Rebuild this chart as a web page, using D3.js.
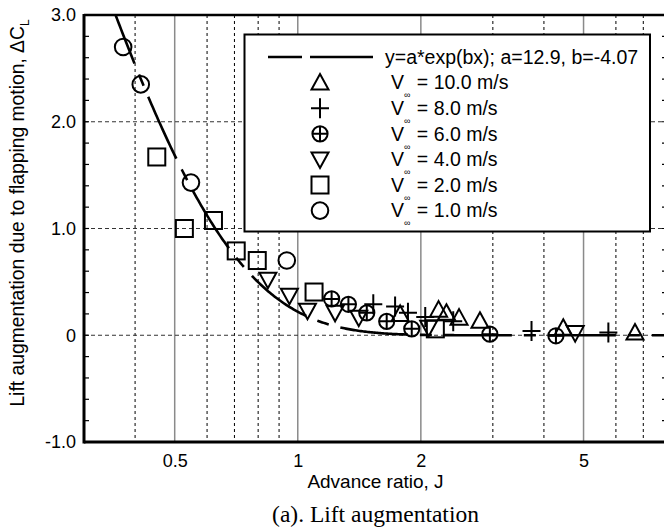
<!DOCTYPE html>
<html><head><meta charset="utf-8">
<script src="https://cdn.jsdelivr.net/npm/d3@7"></script>
<style>body{margin:0;background:#fff}svg{display:block}</style>
</head><body>
<svg id="c" width="664" height="532"></svg>
<script>
// ---- data ----
const fitA = 12.9, fitB = -4.07;
const J10 = [1.78, 2.21, 2.31, 2.48, 2.79, 4.46, 6.68];
const C10 = [0.20, 0.24, 0.21, 0.165, 0.135, 0.07, 0.025];
const J8 = [1.53, 1.73, 1.86, 2.05, 2.40, 3.73, 5.75];
const C8 = [0.29, 0.27, 0.21, 0.17, 0.13, 0.04, 0.025];
const J6 = [1.21, 1.33, 1.475, 1.65, 1.90, 2.95, 4.28];
const C6 = [0.34, 0.29, 0.21, 0.13, 0.06, 0.01, -0.005];
const J4 = [0.845, 0.954, 1.056, 1.234, 1.41, 2.09, 4.77];
const C4 = [0.52, 0.37, 0.23, 0.21, 0.165, 0.07, 0.02];
const J2 = [0.452, 0.528, 0.622, 0.707, 0.796, 1.096, 2.17];
const C2 = [1.67, 1.00, 1.075, 0.79, 0.70, 0.405, 0.06];
const J1 = [0.374, 0.413, 0.548, 0.94];
const C1 = [2.70, 2.35, 1.43, 0.70];
const seriesLabels = ["10.0 m/s", "8.0 m/s", "6.0 m/s", "4.0 m/s", "2.0 m/s", "1.0 m/s"];
const seriesSymbols = ["triUp", "plus", "circlePlus", "triDown", "square", "circle"];
const xTickLabels = [0.5, 1, 2, 5];
const xMinorGrid = [0.4, 0.6, 0.7, 0.8, 0.9, 3, 4, 6, 7];
const yTickValues = [-1, 0, 1, 2, 3];
const yTickLabels = ["-1.0", "0", "1.0", "2.0", "3.0"];

// ---- layout ----
const svg = d3.select("#c");
const L = 84, R = 667, T = 15, B = 442;
const x = d3.scaleLog().domain([0.3, 8]).range([L, R]);
const y = d3.scaleLinear().domain([-1, 3]).range([B, T]);

svg.append("defs").append("clipPath").attr("id", "clip")
  .append("rect").attr("x", L).attr("y", T).attr("width", R - L).attr("height", B - T);

// grid
const g = svg.append("g");
g.selectAll(".gmaj").data(xTickLabels).join("line")
  .attr("x1", d => x(d)).attr("x2", d => x(d)).attr("y1", T).attr("y2", B)
  .attr("stroke", "#8a8a8a").attr("stroke-width", 1.5);
g.selectAll(".gmin").data(xMinorGrid).join("line")
  .attr("x1", d => x(d)).attr("x2", d => x(d)).attr("y1", T).attr("y2", B)
  .attr("stroke", "#000").attr("stroke-width", 1).attr("stroke-dasharray", "3,3");
g.selectAll(".gy").data([0, 1, 2]).join("line")
  .attr("x1", L).attr("x2", R).attr("y1", d => y(d)).attr("y2", d => y(d))
  .attr("stroke", "#333").attr("stroke-width", 1).attr("stroke-dasharray", "4,3");

// minor y ticks (inward) on left and right
const yMinor = d3.range(-1, 3.001, 0.2);
svg.append("g").selectAll("line").data(yMinor).join("line")
  .attr("x1", L).attr("x2", L + 5).attr("y1", d => y(d)).attr("y2", d => y(d))
  .attr("stroke", "#000").attr("stroke-width", 1.2);
svg.append("g").selectAll("line").data(yMinor).join("line")
  .attr("x1", R - 5).attr("x2", R).attr("y1", d => y(d)).attr("y2", d => y(d))
  .attr("stroke", "#000").attr("stroke-width", 1.2);

// fit curve
const J0 = Math.log(fitA / 3) / -fitB;
const Js = d3.range(0, 401).map(i => J0 * Math.pow(8 / J0, i / 400));
const line = d3.line().x(d => x(d)).y(d => y(fitA * Math.exp(fitB * d)));
svg.append("path").datum(Js).attr("d", line).attr("clip-path", "url(#clip)")
  .attr("fill", "none").attr("stroke", "#000").attr("stroke-width", 2.6)
  .attr("stroke-dasharray", "68,12,12,12").attr("stroke-dashoffset", 16);

// symbols
function drawSym(sel, type, cx, cy) {
  const s = 8.5;
  const st = {fill: "none", stroke: "#000", "stroke-width": 2};
  const ap = (el) => { for (const k in st) el.attr(k, st[k]); return el; };
  if (type === "circle") ap(sel.append("circle").attr("cx", cx).attr("cy", cy).attr("r", 8.3));
  else if (type === "square") ap(sel.append("rect").attr("x", cx - s).attr("y", cy - s).attr("width", 2 * s).attr("height", 2 * s));
  else if (type === "triUp") ap(sel.append("path").attr("d", `M${cx},${cy - 8.5}L${cx + 8.5},${cy + 7}L${cx - 8.5},${cy + 7}Z`));
  else if (type === "triDown") ap(sel.append("path").attr("d", `M${cx},${cy + 8.5}L${cx + 8.5},${cy - 7}L${cx - 8.5},${cy - 7}Z`));
  else if (type === "plus") ap(sel.append("path").attr("d", `M${cx - 9},${cy}H${cx + 9}M${cx},${cy - 10}V${cy + 10}`));
  else if (type === "circlePlus") {
    ap(sel.append("circle").attr("cx", cx).attr("cy", cy).attr("r", 7.6));
    ap(sel.append("path").attr("d", `M${cx - 7.6},${cy}H${cx + 7.6}M${cx},${cy - 7.6}V${cy + 7.6}`));
  }
}
const seriesJ = [J10, J8, J6, J4, J2, J1];
const seriesC = [C10, C8, C6, C4, C2, C1];
const mg = svg.append("g");
[5, 4, 3, 2, 1, 0].forEach(k => {
  seriesJ[k].forEach((j, i) => drawSym(mg, seriesSymbols[k], x(j), y(seriesC[k][i])));
});

// axes frame
svg.append("line").attr("x1", L).attr("x2", R).attr("y1", T).attr("y2", T).attr("stroke", "#000").attr("stroke-width", 2.5);
svg.append("line").attr("x1", L).attr("x2", R).attr("y1", B).attr("y2", B).attr("stroke", "#000").attr("stroke-width", 3);
svg.append("line").attr("x1", L).attr("x2", L).attr("y1", T - 1).attr("y2", B + 1.5).attr("stroke", "#000").attr("stroke-width", 3);
svg.append("line").attr("x1", R).attr("x2", R).attr("y1", T).attr("y2", B).attr("stroke", "#000").attr("stroke-width", 2.5);

const font = "'Liberation Sans', Arial, sans-serif";
// tick labels
const yax = d3.axisLeft(y).tickValues(yTickValues).tickFormat((d, i) => yTickLabels[i]).tickSize(0).tickPadding(8);
const yg = svg.append("g").attr("transform", `translate(${L},0)`).call(yax);
yg.select(".domain").remove();
yg.selectAll("text").attr("font-family", font).attr("font-size", 18).attr("fill", "#000");
const xax = d3.axisBottom(x).tickValues(xTickLabels).tickFormat(d => String(d)).tickSize(0).tickPadding(12);
const xg = svg.append("g").attr("transform", `translate(0,${B})`).call(xax);
xg.select(".domain").remove();
xg.selectAll("text").attr("font-family", font).attr("font-size", 18).attr("fill", "#000");

// axis titles
svg.append("text").attr("x", (L + R) / 2).attr("y", 488).attr("text-anchor", "middle")
  .attr("font-family", font).attr("font-size", 19).text("Advance ratio, J");
const yl = svg.append("text").attr("transform", `translate(24,213) rotate(-90)`)
  .attr("text-anchor", "middle").attr("font-family", font).attr("font-size", 19.3);
yl.append("tspan").text("Lift augmentation due to flapping motion, ΔC");
yl.append("tspan").attr("font-size", 12).attr("dy", 5).text("L");
svg.append("text").attr("x", (L + R) / 2).attr("y", 522).attr("text-anchor", "middle")
  .attr("font-family", "'Liberation Serif', 'Times New Roman', serif").attr("font-size", 23.5)
  .text("(a). Lift augmentation");

// legend
const lg = svg.append("g");
lg.append("rect").attr("x", 244.5).attr("y", 34.5).attr("width", 405.5).attr("height", 197)
  .attr("fill", "#fff").attr("stroke", "#000").attr("stroke-width", 2);
const row0 = 57, dy = 25.6;
lg.append("line").attr("x1", 268).attr("x2", 373).attr("y1", row0).attr("y2", row0)
  .attr("stroke", "#000").attr("stroke-width", 2.6).attr("stroke-dasharray", "34,8,63");
lg.append("text").attr("x", 385).attr("y", row0 + 6.8).attr("font-family", font).attr("font-size", 19.5)
  .text("y=a*exp(bx); a=12.9, b=-4.07");
seriesLabels.forEach((lab, i) => {
  const cy = row0 + dy * (i + 1);
  drawSym(lg, seriesSymbols[i], 320, cy);
  const t = lg.append("text").attr("x", 391).attr("y", cy + 6.8).attr("font-family", font).attr("font-size", 19.5);
  t.append("tspan").text("V");
  t.append("tspan").attr("font-size", 9).attr("dy", 9).attr("dx", 0).text("∞");
  t.append("tspan").attr("dy", -9).attr("dx", 1).text(" = " + lab);
});
</script>
</body></html>
